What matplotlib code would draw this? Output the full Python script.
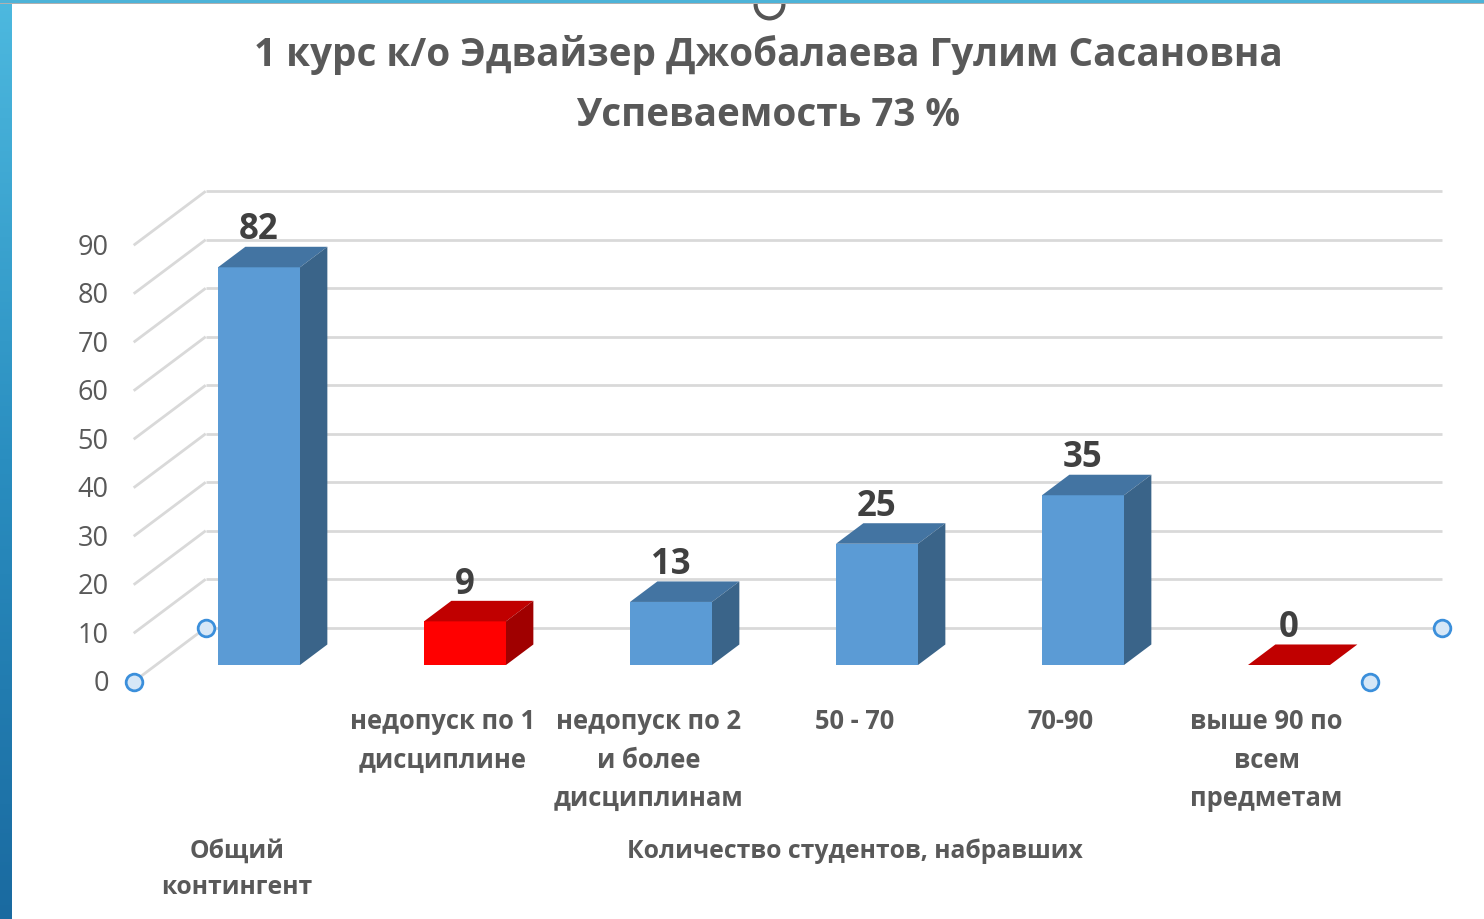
import numpy as np
import matplotlib.pyplot as plt
from matplotlib.patches import Polygon, Rectangle
from matplotlib.colors import LinearSegmentedColormap

# data
categories = ['', 'недопуск по 1\nдисциплине', 'недопуск по 2\nи более\nдисциплинам',
              '50 - 70', '70-90', 'выше 90 по\nвсем\nпредметам']
groups = ['Общий\nконтингент', 'Количество студентов, набравших']
group_members = [[0], [1, 2, 3, 4, 5]]
values = [82, 9, 13, 25, 35, 0]
bar_colors = ['blue', 'red', 'blue', 'blue', 'blue', 'red']
yticks = list(range(0, 100, 10))
title = '1 курс к/о Эдвайзер Джобалаева Гулим Сасановна\nУспеваемость 73 %'

shades = {'blue': ('#5B9BD5', '#4374A2', '#3A6489'),
          'red': ('#FF0000', '#C00000', '#A00000')}

W, H = 1484, 919
plt.rcParams['font.family'] = ['Open Sans', 'DejaVu Sans']
fig = plt.figure(figsize=(W / 100, H / 100), dpi=100)

# pixel layout of the bar front plane
X0, DXPX = 259, 206      # first category centre, px per category
Y0, DYPX = 665, 4.85     # value 0 baseline, px per unit
ax = fig.add_axes([0, 0, 1, 1])
ax.set_xlim(-X0 / DXPX, (W - X0) / DXPX)
ax.set_ylim((Y0 - H) / DYPX, Y0 / DYPX)
ax.axis('off')

# oblique depth of the floor, in data units
DEP_X = 72 / DXPX
DEP_Y = 54 / DYPX
D_FRONT = 0.31           # bar front face depth fraction
D_BACK = 0.69
BW = 82 / DXPX
n = len(values)


def proj(x, v, d):
    return (x + (d - D_FRONT) * DEP_X, v + (d - D_FRONT) * DEP_Y)


grid_kw = dict(color='#D9D9D9', lw=2, zorder=1, solid_capstyle='butt')
for v in yticks:
    a, b = proj(-0.5, v, 0), proj(-0.5, v, 1)
    ax.plot([a[0], b[0]], [a[1], b[1]], **grid_kw)
    c = proj(n - 0.5, v, 1)
    ax.plot([b[0], c[0]], [b[1], c[1]], **grid_kw)
    ax.text(a[0] - 25 / DXPX, a[1] - 0.5, str(v), ha='right', va='center',
            fontsize=19.5, color='#595959')

# bars
x = np.arange(n)
for i, v in enumerate(values):
    front, top, side = shades[bar_colors[i]]
    ax.bar(x[i], v, width=BW, bottom=0, color=front, zorder=3, lw=0)
    l, r = x[i] - BW / 2, x[i] + BW / 2
    top_pts = [proj(l, v, D_FRONT), proj(r, v, D_FRONT), proj(r, v, D_BACK), proj(l, v, D_BACK)]
    ax.add_patch(Polygon(top_pts, closed=True, fc=top, ec='none', zorder=3))
    if v > 0:
        side_pts = [proj(r, 0, D_FRONT), proj(r, v, D_FRONT), proj(r, v, D_BACK), proj(r, 0, D_BACK)]
        ax.add_patch(Polygon(side_pts, closed=True, fc=side, ec='none', zorder=3))
    ax.annotate(str(v), (x[i], v), xytext=(0, 26.5), textcoords='offset points',
                ha='center', va='center', fontsize=25, fontweight='bold',
                color='#404040', zorder=5)

# category labels (two levels), under the floor front edge
for i, lab in enumerate(categories):
    fx, fy = proj(x[i], 0, 0)
    ax.annotate(lab, (fx, fy), xytext=(0, -19), textcoords='offset points',
                ha='center', va='top', fontsize=18.4, fontweight='bold',
                color='#595959', linespacing=1.55)
for g, members in zip(groups, group_members):
    fx = np.mean([proj(x[m], 0, 0)[0] for m in members])
    fy = proj(0, 0, 0)[1]
    ax.annotate(g, (fx, fy), xytext=(0, -113), textcoords='offset points',
                ha='center', va='top', fontsize=17.8, fontweight='bold',
                color='#595959', linespacing=1.6)

# selection handles at the floor corners
for cx, d in [(-0.5, 0), (-0.5, 1), (n - 0.5, 0), (n - 0.5, 1)]:
    px, py = proj(cx, 0, d)
    ax.plot(px, py, 'o', ms=12, mfc='#D6E7F7', mec='#3B8FDB', mew=2, zorder=6)

fig.text(768 / W, 1 - 85 / H, title, ha='center', va='center', fontsize=27.8,
         fontweight='bold', color='#595959', linespacing=1.7)

# slide decoration: left gradient strip, top border, top handle
strip = fig.add_axes([0, 0, 12 / W, 1])
grad = np.linspace(0, 1, 256).reshape(-1, 1)
cm = LinearSegmentedColormap.from_list('s', ['#4DB9DF', '#2A8EC0', '#1A6AA0'])
strip.imshow(grad, aspect='auto', cmap=cm, extent=[0, 1, 0, 1])
strip.axis('off')
fig.add_artist(Rectangle((0, 1 - 2.5 / H), 1, 2.5 / H, transform=fig.transFigure,
                         fc='#4DB3D8', ec='none'))
fig.add_artist(Rectangle((0, 1 - 4 / H), 1, 1.5 / H, transform=fig.transFigure,
                         fc='#B0B0B0', ec='none'))
ax.plot([769 / W], [1 - 4 / H], 'o', ms=20, mfc='white', mec='#555555', mew=3,
        transform=fig.transFigure, clip_on=False, zorder=7)

fig.savefig('out.png', dpi=100)
